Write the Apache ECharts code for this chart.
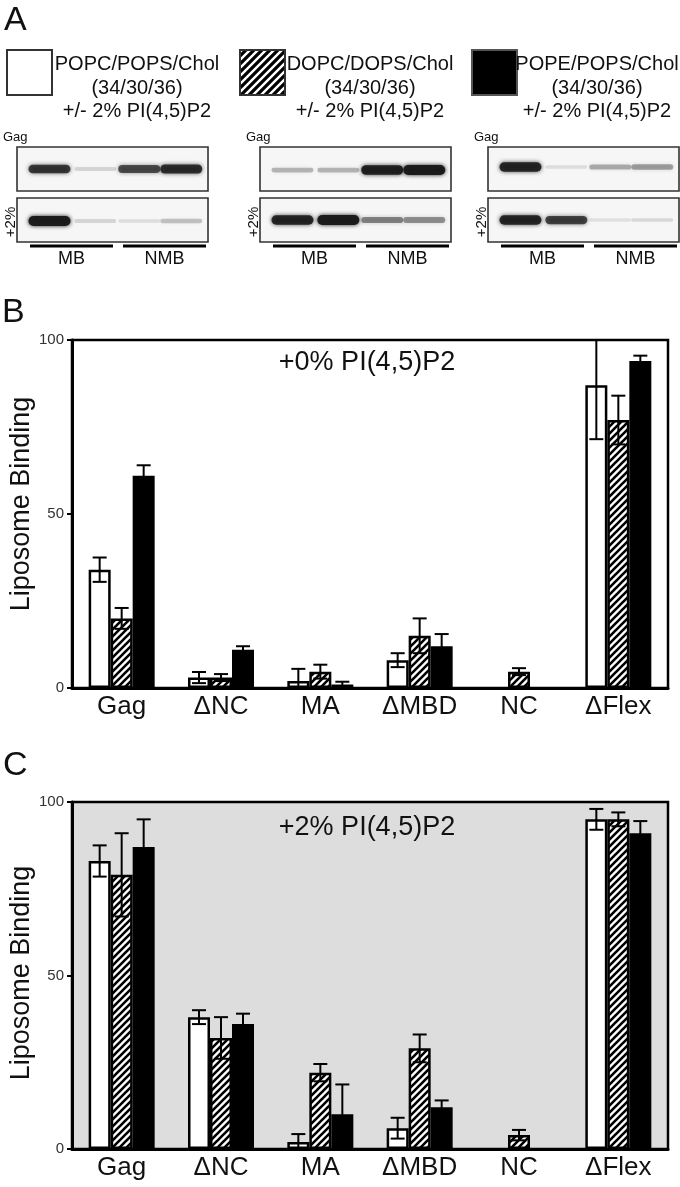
<!DOCTYPE html>
<html>
<head>
<meta charset="utf-8">
<script src="https://cdn.jsdelivr.net/npm/echarts@6/dist/echarts.min.js"></script>
<style>
html,body{margin:0;padding:0;background:#fff;}
#main{width:680px;height:1187px;}
</style>
</head>
<body>
<div id="main"></div>
<script>
// ---------------- DATA ----------------
const categories = ['Gag', 'ΔNC', 'MA', 'ΔMBD', 'NC', 'ΔFlex'];
const yMin = 0, yMax = 100, yInterval = 50;

// Panel B: +0% PI(4,5)P2
const popc0 = [34, 3, 2, 8, null, 87];
const popc0Err = [3.5, 1.6, 3.5, 2, null, 15.5];
const dopc0 = [20, 3, 4.7, 15, 4.7, 77];
const dopc0Err = [3, 1, 2, 5, 1, 7];
const pope0 = [61, 11, 1, 12, null, 94];
const pope0Err = [3, 1, 0.8, 3.5, null, 1.5];

// Panel C: +2% PI(4,5)P2
const popc2 = [83, 38, 2, 6, null, 95];
const popc2Err = [4.5, 2, 2.3, 3, null, 3];
const dopc2 = [79, 32, 22, 29, 4, 95];
const dopc2Err = [12, 6, 2.5, 4, 1.5, 2];
const pope2 = [87, 36, 10, 12, null, 91];
const pope2Err = [8, 3, 8.6, 2, null, 3.5];

// Panel A: legend text and blot band intensities (lanes: MB, MB, NMB, NMB)
const lipidNames = ['POPC/POPS/Chol', 'DOPC/DOPS/Chol', 'POPE/POPS/Chol'];
const lipidRatio = '(34/30/36)';
const lipidPI = '+/- 2% PI(4,5)P2';
const laneGroups = ['MB', 'NMB'];
const blotGag = [[0.8, 0.12, 0.7, 0.85], [0.25, 0.25, 0.95, 1.0], [0.9, 0.08, 0.3, 0.35]];
const blotPI2 = [[1.0, 0.12, 0.08, 0.2], [0.9, 1.0, 0.45, 0.4], [0.9, 0.75, 0.06, 0.1]];

// ---------------- STYLE / LAYOUT ----------------
const FONT = 'Liberation Sans, Arial, Helvetica, sans-serif';
const BW = 22;

function hatchPattern(size, lw) {
  const c = document.createElement('canvas');
  c.width = size; c.height = size;
  const g = c.getContext('2d');
  g.fillStyle = '#fff'; g.fillRect(0, 0, size, size);
  g.strokeStyle = '#000'; g.lineWidth = lw; g.lineCap = 'square';
  g.beginPath();
  g.moveTo(-1, size + 1); g.lineTo(size + 1, -1);
  g.moveTo(-size / 2 - 1, size / 2 + 1); g.lineTo(size / 2 + 1, -size / 2 - 1);
  g.moveTo(size / 2 - 1, size * 1.5 + 1); g.lineTo(size * 1.5 + 1, size / 2 - 1);
  g.stroke();
  return { image: c, repeat: 'repeat' };
}
const barHatch = hatchPattern(7, 2.6);
const legendHatch = hatchPattern(8, 3.2);

const seriesStyles = [
  { color: '#fff', borderColor: '#000', borderWidth: 2.5 },
  { color: barHatch, borderColor: '#000', borderWidth: 2.5 },
  { color: '#000', borderColor: '#000', borderWidth: 2.5 }
];

function errRender(slot) {
  return function (params, api) {
    const ci = api.value(0), v = api.value(1), e = api.value(2);
    const hiV = v + e, loV = v - e;
    const x = api.coord([ci, v])[0] + (slot - 1) * BW;
    const yHi = api.coord([ci, Math.min(hiV, yMax)])[1];
    const yLo = api.coord([ci, Math.max(loV, yMin)])[1];
    const st = { stroke: '#000', lineWidth: 2 };
    const children = [{ type: 'line', shape: { x1: x, y1: yLo, x2: x, y2: yHi }, style: st }];
    if (hiV <= yMax) children.push({ type: 'line', shape: { x1: x - 7, y1: yHi, x2: x + 7, y2: yHi }, style: st });
    if (loV >= yMin) children.push({ type: 'line', shape: { x1: x - 7, y1: yLo, x2: x + 7, y2: yLo }, style: st });
    return { type: 'group', children: children };
  };
}

function buildSeries(axisIdx, vals, errs) {
  const out = [];
  vals.forEach((arr, k) => {
    out.push({
      type: 'bar', xAxisIndex: axisIdx, yAxisIndex: axisIdx,
      data: arr, barWidth: BW, barGap: '0%',
      itemStyle: seriesStyles[k], silent: true, z: 2
    });
  });
  vals.forEach((arr, k) => {
    const d = [];
    arr.forEach((v, i) => { if (v != null && errs[k][i] != null) d.push([i, v, errs[k][i]]); });
    out.push({
      type: 'custom', xAxisIndex: axisIdx, yAxisIndex: axisIdx,
      data: d, renderItem: errRender(k), silent: true, z: 5
    });
  });
  return out;
}

function xAxisCfg(idx) {
  return {
    type: 'category', gridIndex: idx, data: categories,
    axisLine: { lineStyle: { color: '#000', width: 3 } },
    axisTick: { show: false },
    axisLabel: { fontSize: 26, color: '#111', margin: 6, fontFamily: FONT }
  };
}
function yAxisCfg(idx) {
  return {
    type: 'value', gridIndex: idx, min: yMin, max: yMax, interval: yInterval,
    axisLine: { show: true, lineStyle: { color: '#000', width: 3 } },
    axisTick: { show: true, length: 5, lineStyle: { color: '#000', width: 2 } },
    axisLabel: { fontSize: 15, color: '#333', margin: 8, fontFamily: FONT },
    splitLine: { show: false }
  };
}

// ---------------- PANEL A GRAPHICS ----------------
const graphic = [];
function txt(x, y, text, size, opts) {
  opts = opts || {};
  graphic.push({
    type: 'text', x: x, y: y, rotation: opts.rotation || 0, silent: true, z: 20,
    style: {
      text: text, font: (opts.weight || 'normal') + ' ' + size + 'px ' + FONT,
      fill: opts.color || '#111', textAlign: opts.align || 'center', textVerticalAlign: 'middle'
    }
  });
}
// Panel letters
txt(4, 21, 'A', 34, { align: 'left' });
txt(2, 313, 'B', 34, { align: 'left' });
txt(3, 766, 'C', 34, { align: 'left' });

// legend squares
const legendBoxX = [7, 240, 472];
const legendTextX = [137, 370, 597];
const legendFills = ['#fff', legendHatch, '#000'];
legendBoxX.forEach((bx, k) => {
  graphic.push({
    type: 'rect', silent: true, z: 10,
    shape: { x: bx, y: 50, width: 45, height: 45 },
    style: { fill: legendFills[k], stroke: k === 2 ? '#555' : '#333', lineWidth: 2 }
  });
  txt(legendTextX[k], 64, lipidNames[k], 20);
  txt(legendTextX[k], 88, lipidRatio, 20);
  txt(legendTextX[k], 111, lipidPI, 20);
});

// blots
const blotX = [17, 260, 488];
const blotW = 191;
const laneFrac = [0.17, 0.41, 0.64, 0.86];
const bandYTop = [169, 170, 167];
const bandYBot = [221, 220, 220];
blotX.forEach((bx, g) => {
  txt(bx - 14, 137, 'Gag', 13, { align: 'left' });
  txt(bx - 6, 222, '+2%', 15, { rotation: Math.PI / 2 });
  [[147, blotGag[g], bandYTop[g]], [198, blotPI2[g], bandYBot[g]]].forEach(([fy, ints, by]) => {
    graphic.push({
      type: 'rect', silent: true, z: 10,
      shape: { x: bx, y: fy, width: blotW, height: 44 },
      style: { fill: '#f6f6f6', stroke: '#333', lineWidth: 1.6 }
    });
    ints.forEach((a, li) => {
      const cx = bx + laneFrac[li] * blotW;
      const h = 3 + 7 * a;
      const col = 'rgba(25,25,25,' + Math.min(1, a * 0.95 + 0.03).toFixed(2) + ')';
      graphic.push({
        type: 'rect', silent: true, z: 11,
        shape: { x: cx - 21, y: by - h / 2, width: 42, height: h, r: h / 2 },
        style: { fill: col, shadowBlur: 4, shadowColor: col }
      });
    });
  });
  // MB / NMB underlines and labels
  laneGroups.forEach((name, j) => {
    const x1 = bx + 13 + j * 93, x2 = x1 + 83;
    graphic.push({
      type: 'line', silent: true, z: 10,
      shape: { x1: x1, y1: 246, x2: x2, y2: 246 },
      style: { stroke: '#000', lineWidth: 3 }
    });
    txt((x1 + x2) / 2, 259, name, 18);
  });
});

// y-axis names and panel titles
txt(22, 504, 'Liposome Binding', 27, { rotation: Math.PI / 2 });
txt(22, 973, 'Liposome Binding', 27, { rotation: Math.PI / 2 });
txt(367, 363, '+0% PI(4,5)P2', 27);
txt(367, 828, '+2% PI(4,5)P2', 27);

// ---------------- CHART ----------------
const chart = echarts.init(document.getElementById('main'), null, { renderer: 'canvas' });
chart.setOption({
  animation: false,
  backgroundColor: '#fff',
  textStyle: { fontFamily: FONT },
  grid: [
    { left: 72, top: 340, width: 596, height: 348, show: true, borderColor: '#000', borderWidth: 2.5, backgroundColor: 'transparent' },
    { left: 72, top: 802, width: 596, height: 347, show: true, borderColor: '#000', borderWidth: 2.5, backgroundColor: '#dddddd' }
  ],
  xAxis: [xAxisCfg(0), xAxisCfg(1)],
  yAxis: [yAxisCfg(0), yAxisCfg(1)],
  series: [].concat(
    buildSeries(0, [popc0, dopc0, pope0], [popc0Err, dopc0Err, pope0Err]),
    buildSeries(1, [popc2, dopc2, pope2], [popc2Err, dopc2Err, pope2Err])
  ),
  graphic: graphic
});
</script>
</body>
</html>
